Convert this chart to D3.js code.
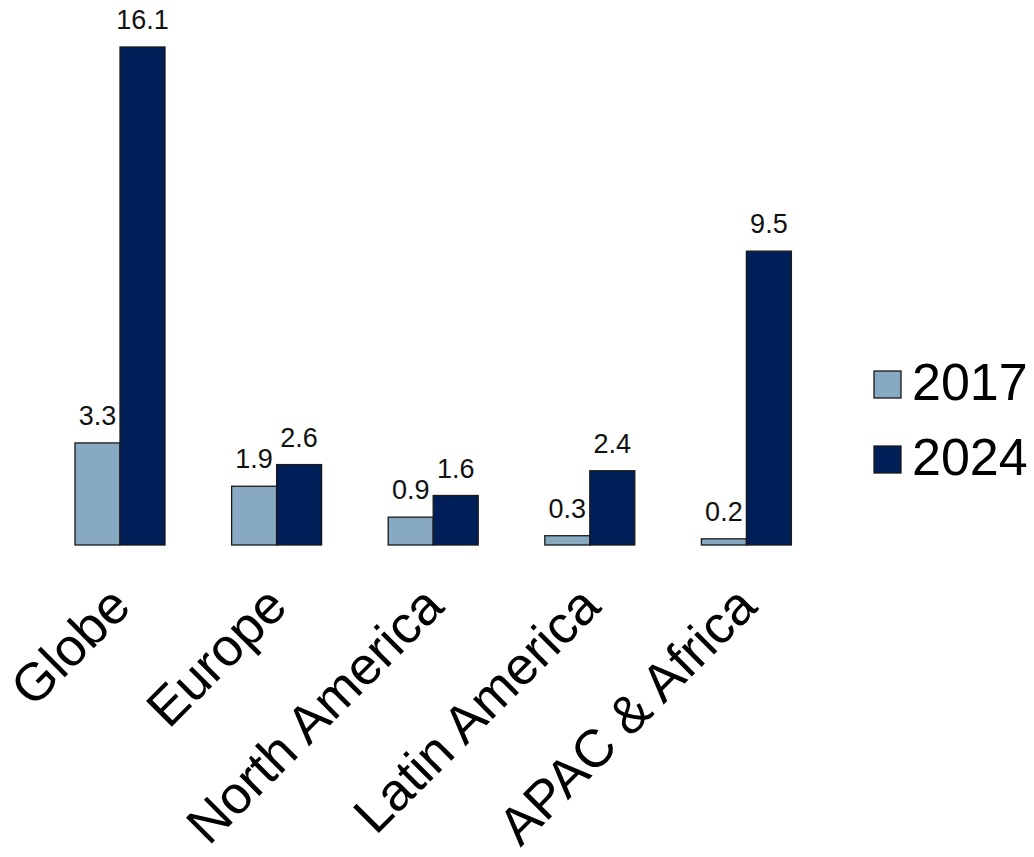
<!DOCTYPE html>
<html>
<head>
<meta charset="utf-8">
<script src="https://cdn.jsdelivr.net/npm/d3@7"></script>
<style>
  html, body { margin: 0; padding: 0; background: #ffffff; }
  svg { display: block; font-family: "Liberation Sans", Arial, sans-serif; }
</style>
</head>
<body>
<svg id="chart" width="1034" height="857"></svg>
<script>
// Regions and yearly values
const categories = ["Globe", "Europe", "North America", "Latin America", "APAC & Africa"];
const years = ["2017", "2024"];
const values2017 = [3.3, 1.9, 0.9, 0.3, 0.2];
const values2024 = [16.1, 2.6, 1.6, 2.4, 9.5];
const seriesColors = ["#88a9c2", "#001e57"];

const series = [values2017, values2024];
const rows = categories.map((c, i) => ({
  category: c,
  bars: years.map((y, j) => ({ year: y, value: series[j][i], color: seriesColors[j] }))
}));

const svg = d3.select("#chart");

const baseY = 545;
const y = d3.scaleLinear().domain([0, 16.1]).range([baseY, 47]);

const x0 = d3.scaleBand()
  .domain(categories)
  .range([41.7, 824.7])
  .paddingInner(0.4253)
  .paddingOuter(0.2127);

const x1 = d3.scaleBand()
  .domain(years)
  .range([0, x0.bandwidth()])
  .padding(0);

const groups = svg.append("g").selectAll("g.group")
  .data(rows)
  .join("g")
  .attr("class", "group")
  .attr("transform", d => `translate(${x0(d.category)},0)`);

groups.selectAll("rect")
  .data(d => d.bars)
  .join("rect")
  .attr("x", d => x1(d.year))
  .attr("y", d => y(d.value))
  .attr("width", x1.bandwidth())
  .attr("height", d => baseY - y(d.value))
  .attr("fill", d => d.color)
  .attr("stroke", "#1a1a1a")
  .attr("stroke-width", 1.3);

groups.selectAll("text.value")
  .data(d => d.bars)
  .join("text")
  .attr("class", "value")
  .attr("x", d => x1(d.year) + x1.bandwidth() / 2)
  .attr("y", d => y(d.value) - 18)
  .attr("text-anchor", "middle")
  .attr("font-size", 27)
  .attr("fill", "#111")
  .text(d => d.value.toFixed(1));

// Category axis labels, rotated
svg.append("g").selectAll("text.cat")
  .data(categories)
  .join("text")
  .attr("class", "cat")
  .attr("text-anchor", "end")
  .attr("font-size", 53)
  .attr("fill", "#000")
  .attr("transform", d => `translate(${x0(d) + x0.bandwidth() / 2 + 13},${609}) rotate(-45)`)
  .text(d => d);

// Legend
const legend = svg.append("g").selectAll("g.legend")
  .data(years.map((yr, j) => ({ year: yr, color: seriesColors[j] })))
  .join("g")
  .attr("class", "legend")
  .attr("transform", (d, i) => `translate(874,${371 + i * 75})`);

legend.append("rect")
  .attr("width", 27)
  .attr("height", 27)
  .attr("fill", d => d.color)
  .attr("stroke", "#1a1a1a")
  .attr("stroke-width", 1.3);

legend.append("text")
  .attr("x", 38)
  .attr("y", 29)
  .attr("font-size", 52)
  .attr("fill", "#000")
  .text(d => d.year);
</script>
</body>
</html>
